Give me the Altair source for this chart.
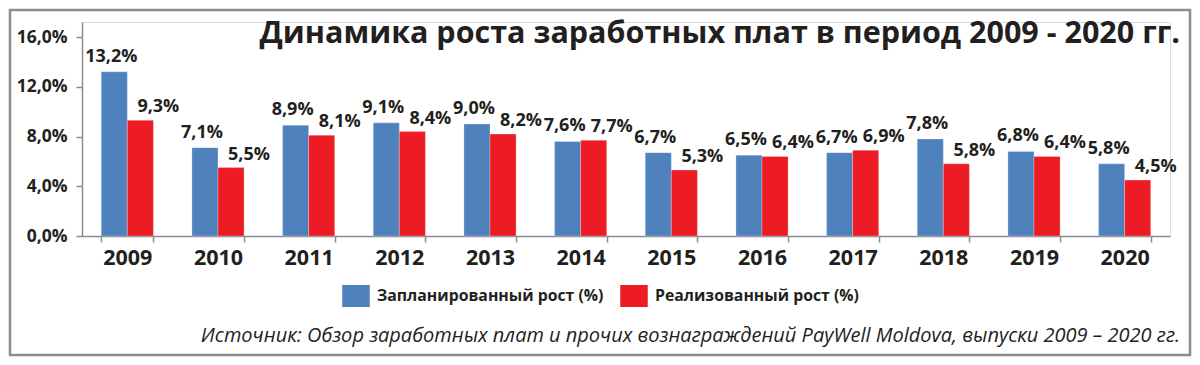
import altair as alt
import pandas as pd

years = ["2009", "2010", "2011", "2012", "2013", "2014", "2015", "2016", "2017", "2018", "2019", "2020"]
planned = [13.2, 7.1, 8.9, 9.1, 9.0, 7.6, 6.7, 6.5, 6.7, 7.8, 6.8, 5.8]
actual = [9.3, 5.5, 8.1, 8.4, 8.2, 7.7, 5.3, 6.4, 6.9, 5.8, 6.4, 4.5]
series = ["Запланированный рост (%)", "Реализованный рост (%)"]
colors = ["#4f81bd", "#ed1c24"]
title_text = "Динамика роста заработных плат в период 2009 - 2020 гг."
source_text = "Источник: Обзор заработных плат и прочих вознаграждений PayWell Moldova, выпуски 2009 – 2020 гг."

rows = []
for y, p, a in zip(years, planned, actual):
    rows.append({"year": y, "series": series[0], "value": p, "label": f"{p:.1f}%".replace(".", ",")})
    rows.append({"year": y, "series": series[1], "value": a, "label": f"{a:.1f}%".replace(".", ",")})
df = pd.DataFrame(rows)

FONT = "Open Sans"
TXT = "#231f20"
W, H = 1088, 214

x_enc = alt.X("year:N", sort=years, title=None,
              scale=alt.Scale(paddingInner=0.425, paddingOuter=0.2125),
              axis=alt.Axis(labelFont=FONT, labelFontSize=21.5, labelFontWeight="bold", labelColor=TXT,
                            labelAngle=0, labelPadding=5, tickBand="extent", tickSize=6,
                            tickColor="#8c8c8c", domainColor="#8c8c8c", domainWidth=1.5, tickWidth=1.5))
xoff = alt.XOffset("series:N", sort=series, scale=alt.Scale(domain=series, paddingInner=0, paddingOuter=0))
y_enc = alt.Y("value:Q", title=None,
              scale=alt.Scale(domain=[0, 16 * 214 / 199], nice=False, zero=True),
              axis=alt.Axis(values=[0, 4, 8, 12, 16], grid=False,
                            labelExpr="replace(format(datum.value, '.1f'), '.', ',') + '%'",
                            labelFont=FONT, labelFontSize=17.5, labelFontWeight="bold", labelColor=TXT,
                            labelPadding=9, tickSize=6, tickColor="#8c8c8c", domainColor="#8c8c8c",
                            domainWidth=1.5, tickWidth=1.5))

base = alt.Chart(df)

bars = base.mark_bar(stroke="#ffffff", strokeWidth=0.5, strokeOpacity=0.5).encode(
    x=x_enc, xOffset=xoff, y=y_enc,
    color=alt.Color("series:N", sort=series,
                    scale=alt.Scale(domain=series, range=colors),
                    legend=alt.Legend(orient="none", legendX=263, legendY=263, direction="horizontal",
                                      title=None, symbolType="M-1.25,-1H1.25V1H-1.25Z", symbolSize=484,
                                      symbolStrokeWidth=0, symbolOpacity=1,
                                      labelFont=FONT, labelFontSize=15.8, labelFontWeight="bold",
                                      labelColor=TXT, labelOffset=10, columnPadding=16,
                                      labelLimit=400)),
)

lab_p = base.transform_filter(alt.datum.series == series[0]).mark_text(
    font=FONT, fontSize=18, fontWeight="bold", color=TXT, dx=-3, dy=-10, baseline="alphabetic"
).encode(x=alt.X("year:N", sort=years), xOffset=alt.XOffset("series:N", sort=series), y="value:Q", text="label:N")

lab_a = base.transform_filter(alt.datum.series == series[1]).mark_text(
    font=FONT, fontSize=18, fontWeight="bold", color=TXT, dx=18, dy=-8, baseline="alphabetic"
).encode(x=alt.X("year:N", sort=years), xOffset=alt.XOffset("series:N", sort=series), y="value:Q", text="label:N")

one = alt.Chart(pd.DataFrame({"t": [title_text], "s": [source_text]}))

title = one.mark_text(font=FONT, fontSize=30.5, fontWeight="bold", color=TXT, align="right",
                      baseline="alphabetic").encode(
    x=alt.value(1098), y=alt.value(21), text="t:N")
source = one.mark_text(font=FONT, fontSize=20, fontStyle="italic", color=TXT, align="right",
                       baseline="alphabetic").encode(
    x=alt.value(1098), y=alt.value(320), text="s:N")
frame = one.mark_rect(fill=None, stroke="#8c8c8c", strokeWidth=2.5, clip=False).encode(
    x=alt.value(-72), x2=alt.value(1108), y=alt.value(-12), y2=alt.value(333))

chart = alt.layer(frame, bars, lab_p, lab_a, title, source).properties(
    width=W, height=H, autosize=alt.AutoSizeParams(type="none"),
    padding={"left": 74, "top": 14, "right": 22, "bottom": 121}
).configure_view(stroke=None).configure(background="#ffffff")

chart.save("out.html", embed_options={"renderer": "svg", "actions": False})
